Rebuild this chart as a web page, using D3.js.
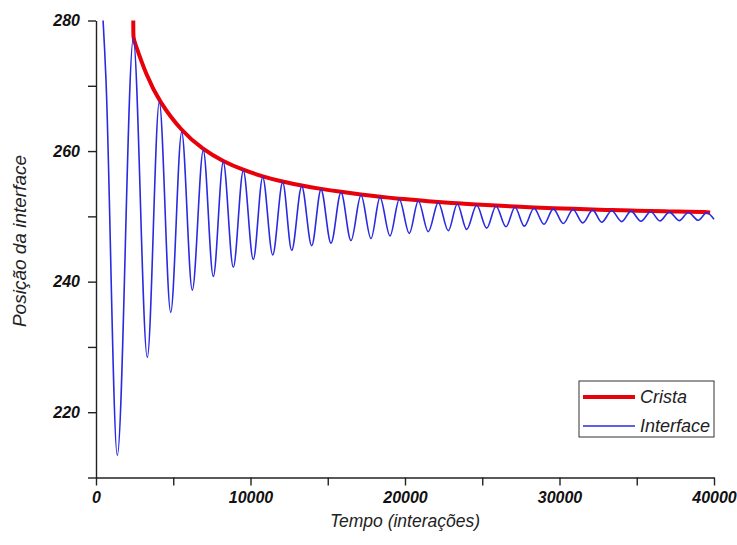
<!DOCTYPE html>
<html>
<head>
<meta charset="utf-8">
<script src="https://cdn.jsdelivr.net/npm/d3@7"></script>
<style>
  body { margin: 0; background: #fff; }
  svg { display: block; font-family: "Liberation Sans", Arial, sans-serif; }
  .axis path, .axis line { stroke: #222; stroke-width: 1.4; }
  .axis text { font-size: 16px; font-weight: bold; font-style: italic; fill: #111; }
  .title { font-size: 17.5px; font-style: italic; fill: #222; }
  .legend-text { font-size: 18px; font-style: italic; fill: #222; }
</style>
</head>
<body>
<div id="chart"></div>
<script>
// interface position (peaks and troughs)
const tempo = [0, 647, 1379, 2414, 3320, 4097, 4835, 5547, 6233, 6945, 7592, 8239, 8887, 9534,
  10181, 10790, 11437, 12084, 12667, 13314, 13961, 14563, 15210, 15858, 16505, 17152, 17799,
  18382, 19029, 19631, 20278, 20861, 21508, 22155, 22802, 23385, 23994, 24641, 25288, 25890,
  26537, 27120, 27722, 28350, 28997, 29599, 30246, 30874, 31502, 32149, 32731, 33379, 34026,
  34628, 35275, 35903, 36505, 37107, 37754, 38337, 38984, 39527, 40000]
const posicao = [295.5, 270.9, 213.4, 277.2, 228.4, 267.5, 235.3, 262.9, 238.7, 260.1, 240.8, 258.3, 242.2, 257.0,
  243.4, 256.0, 244.1, 255.2, 244.8, 254.6, 245.5, 254.1, 245.9, 253.65, 246.3, 253.25, 246.6,
  252.9, 247.0, 252.6, 247.4, 252.35, 247.65, 252.1, 247.8, 251.9, 248.0, 251.7, 248.2, 251.55,
  248.4, 251.4, 248.5, 251.25, 248.8, 251.15, 248.9, 251.05, 249.0, 250.95, 249.1, 250.85, 249.2,
  250.8, 249.25, 250.7, 249.3, 250.65, 249.35, 250.6, 249.4, 250.55, 249.55]

// crest envelope
const cristaTempo = [2414, 2414, 2414, 3282, 4097, 5547, 6945, 8239, 9534, 10790, 12084, 13314, 14563, 15858,
  17152, 18382, 19631, 20861, 22155, 23385, 24641, 25890, 27120, 28350, 29599, 30874, 32149,
  33379, 34628, 35903, 37107, 38337, 39527, 39750]
const cristaPosicao = [290, 277.3, 277.3, 271.4, 267.6, 263.0, 260.2, 258.4, 257.1, 256.1, 255.3, 254.7, 254.2, 253.75,
  253.35, 253.0, 252.7, 252.45, 252.2, 252.0, 251.8, 251.65, 251.5, 251.35, 251.25, 251.15, 251.05,
  250.95, 250.9, 250.8, 250.75, 250.7, 250.65, 250.6]

const xTicks = [0, 5000, 10000, 15000, 20000, 25000, 30000, 35000, 40000]
const yTicks = [210, 220, 230, 240, 250, 260, 270, 280]

const width = 737
const height = 545
const plotLeft = 96
const plotRight = 714
const plotTop = 20.5
const plotBottom = 477.5

const scaleX = d3.scaleLinear().domain([0, 40000]).range([plotLeft, plotRight])
const scaleY = d3.scaleLinear().domain([210, 280]).range([plotBottom, plotTop])

const $svg = d3.select('#chart').append('svg')
  .attr('width', width)
  .attr('height', height)

$svg.append('rect').attr('width', width).attr('height', height).attr('fill', '#fff')

$svg.append('clipPath').attr('id', 'plot-clip')
  .append('rect')
  .attr('x', plotLeft).attr('y', plotTop)
  .attr('width', plotRight - plotLeft + 4).attr('height', plotBottom - plotTop)

// axes
$svg.append('g')
  .attr('class', 'axis')
  .attr('transform', `translate(0, ${plotBottom})`)
  .call(d3.axisBottom(scaleX)
    .tickValues(xTicks)
    .tickSize(8)
    .tickSizeOuter(0)
    .tickPadding(6)
    .tickFormat(d => d % 10000 === 0 ? d : ''))

$svg.append('g')
  .attr('class', 'axis')
  .attr('transform', `translate(${plotLeft}, 0)`)
  .call(d3.axisLeft(scaleY)
    .tickValues(yTicks)
    .tickSize(8)
    .tickSizeOuter(0)
    .tickPadding(8)
    .tickFormat(d => d % 20 === 0 ? d : ''))

$svg.selectAll('.axis .domain').attr('fill', 'none')

// lines
const $vis = $svg.append('g').attr('clip-path', 'url(#plot-clip)')

// the crest is a smooth envelope, so a b-spline through the read points
const crestLine = d3.line()
  .x((d, i) => scaleX(cristaTempo[i]))
  .y(d => scaleY(d))
  .curve(d3.curveBasis)

const interfaceLine = d3.line()
  .x((d, i) => scaleX(tempo[i]))
  .y(d => scaleY(d))
  .curve(d3.curveMonotoneX)

$vis.append('path')
  .datum(cristaPosicao)
  .attr('d', crestLine)
  .attr('fill', 'none')
  .attr('stroke', '#e8000a')
  .attr('stroke-width', 4)

$vis.append('path')
  .datum(posicao)
  .attr('d', interfaceLine)
  .attr('fill', 'none')
  .attr('stroke', '#2a2ae0')
  .attr('stroke-width', 1.6)

// titles
$svg.append('text')
  .attr('class', 'title')
  .attr('x', (plotLeft + plotRight) / 2)
  .attr('y', 527)
  .attr('text-anchor', 'middle')
  .text('Tempo (interações)')

$svg.append('text')
  .attr('class', 'title')
  .attr('transform', `translate(26, ${(plotTop + plotBottom) / 2 - 8}) rotate(-90)`)
  .attr('text-anchor', 'middle')
  .style('font-size', '19px')
  .text('Posição da interface')

// legend
const $legend = $svg.append('g').attr('transform', 'translate(579, 381)')

$legend.append('rect')
  .attr('width', 135)
  .attr('height', 56)
  .attr('fill', '#fff')
  .attr('stroke', '#333')
  .attr('stroke-width', 1)

const legendItems = [
  { label: 'Crista', color: '#e8000a', w: 4 },
  { label: 'Interface', color: '#2a2ae0', w: 1.6 }
]

const $item = $legend.selectAll('.item')
  .data(legendItems)
  .enter()
  .append('g')
  .attr('class', 'item')
  .attr('transform', (d, i) => `translate(0, ${16 + i * 29})`)

$item.append('line')
  .attr('x1', 4).attr('x2', 56)
  .attr('stroke', d => d.color)
  .attr('stroke-width', d => d.w)

$item.append('text')
  .attr('class', 'legend-text')
  .attr('x', 61)
  .attr('dy', '0.35em')
  .text(d => d.label)
</script>
</body>
</html>
